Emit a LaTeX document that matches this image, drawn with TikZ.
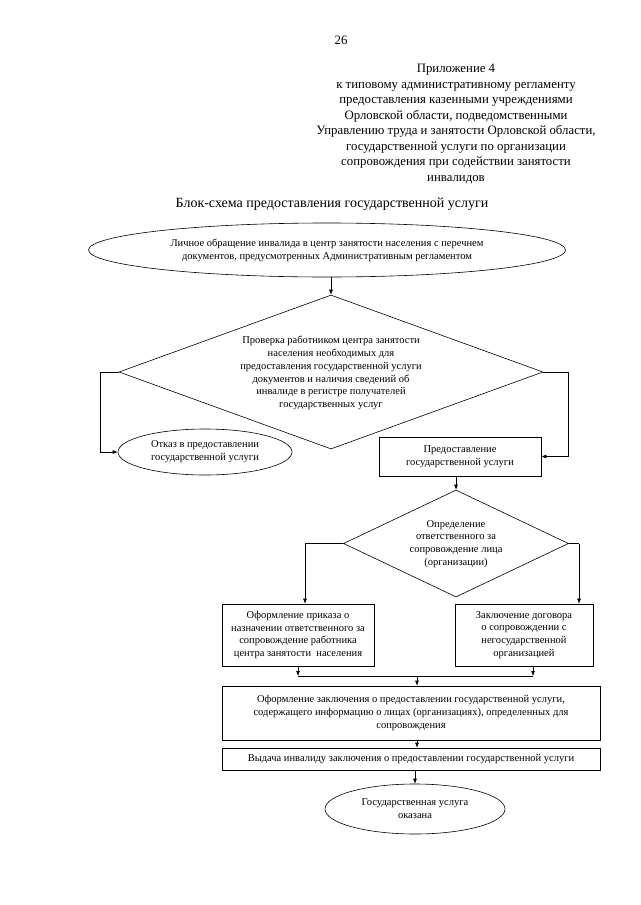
\documentclass[tikz,border=0pt]{standalone}
\usepackage{fontspec}
\setmainfont{Liberation Serif}
\usetikzlibrary{shapes.geometric,arrows.meta}
\newcommand\flowfont{\fontsize{10.5}{12.8}\selectfont}
\newcommand\hdrfont{\fontsize{12.8}{15.5}\selectfont}
\newcommand\ttlfont{\fontsize{14}{16}\selectfont}
\begin{document}
\begin{tikzpicture}[x=1pt,y=-1pt,
  line width=0.6pt,
  arr/.style={-{Latex[length=5pt,width=4pt]}},
  box/.style={draw, rectangle, inner sep=1pt, align=center, font=\flowfont},
  ell/.style={draw, ellipse, inner sep=1pt, align=center, font=\flowfont},
  dia/.style={draw, diamond, inner sep=0pt},
  txt/.style={align=center, font=\flowfont, inner sep=0pt}]
\useasboundingbox (0,0) rectangle (640,905);

\node[font=\hdrfont] (pg) at (341,40) {26};
\node[align=center, font=\hdrfont] (hd) at (456,124) {Приложение 4\\к типовому административному регламенту\\предоставления казенными учреждениями\\Орловской области, подведомственными\\Управлению труда и занятости Орловской области,\\государственной услуги по организации\\сопровождения при содействии занятости\\инвалидов};
\node[font=\ttlfont] (tt) at (332,204) {Блок-схема предоставления государственной услуги};

\node[ell, minimum width=477pt, minimum height=54pt] (e1) at (327,250) {Личное обращение инвалида в центр занятости населения с перечнем\\документов, предусмотренных Административным регламентом};

\node[dia, minimum width=424pt, minimum height=154pt] (d1) at (331,372) {};
\node[txt] (d1t) at (331,373) {Проверка работником центра занятости\\населения необходимых для\\предоставления государственной услуги\\документов и наличия сведений об\\инвалиде в регистре получателей\\государственных услуг};

\node[ell, minimum width=174pt, minimum height=46pt] (ot) at (205,452) {Отказ в предоставлении\\государственной услуги};
\node[box, minimum width=162pt, minimum height=39pt] (pr) at (460,456.5) {Предоставление\\государственной услуги};

\node[dia, minimum width=225pt, minimum height=107pt] (d2) at (456,543.5) {};
\node[txt] (d2t) at (456,544) {Определение\\ответственного за\\сопровождение лица\\(организации)};

\node[box, minimum width=152pt, minimum height=62pt] (lb) at (298,635) {Оформление приказа о\\назначении ответственного за\\сопровождение работника\\центра занятости\ \ населения};
\node[box, minimum width=138pt, minimum height=62pt] (rb) at (524,635) {Заключение договора\\о сопровождении с\\негосударственной\\организацией};

\node[box, minimum width=378pt, minimum height=54pt] (bb) at (411,713) {Оформление заключения о предоставлении государственной услуги,\\содержащего информацию о лицах (организациях), определенных для\\сопровождения};
\node[box, minimum width=378pt, minimum height=22pt] (vb) at (411,759) {Выдача инвалиду заключения о предоставлении государственной услуги};
\node[ell, minimum width=180pt, minimum height=50pt] (fe) at (415,809) {Государственная услуга\\оказана};

% connectors
\coordinate (cl) at (100,372);
\coordinate (cr) at (568,372);
\coordinate (j1) at (305,543.5);
\coordinate (j2) at (579,543.5);
\coordinate (jl) at (298,676);
\coordinate (jr) at (533,676);
\coordinate (jm) at (417,676);

\draw[arr] (d1.north |- e1.south) -- (d1.north);
\draw[arr] (d1.west) -- (cl) |- (ot.west);
\draw[arr] (d1.east) -- (cr) |- (pr.east);
\draw[arr] (pr.south -| d2.north) -- (d2.north);
\draw (d2.west) -- (j1);
\draw[arr] (j1) -- (j1 |- lb.north);
\draw (d2.east) -- (j2);
\draw[arr] (j2) -- (j2 |- rb.north);
\draw[arr] (lb.south -| jl) -- (jl);
\draw[arr] (rb.south -| jr) -- (jr);
\draw (jl) -- (jr);
\draw[arr] (jm) -- (jm |- bb.north);
\draw[arr] (bb.south -| jm) -- (jm |- vb.north);
\draw[arr] (vb.south -| fe.north) -- (fe.north);
\end{tikzpicture}
\end{document}
